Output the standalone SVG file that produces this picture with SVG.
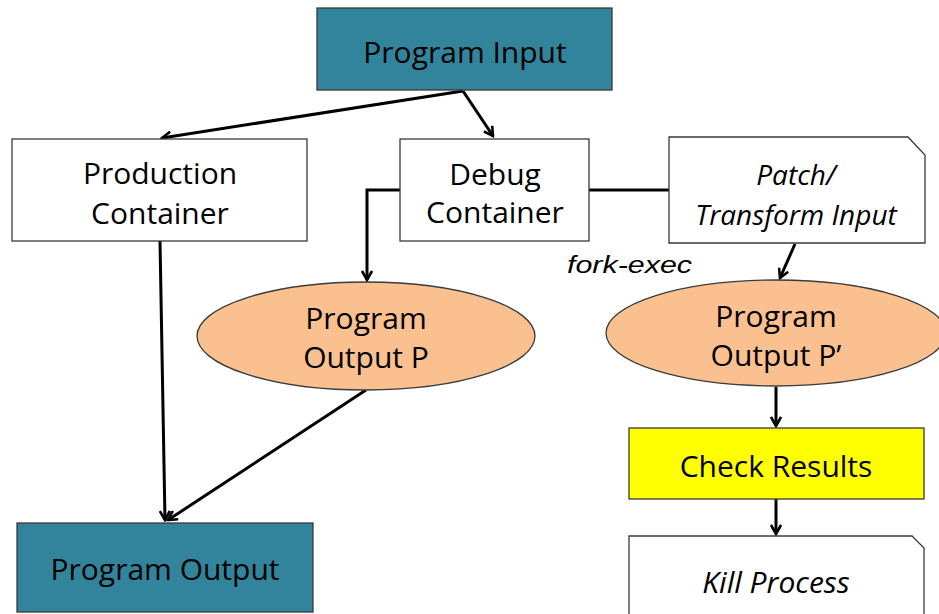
<svg xmlns="http://www.w3.org/2000/svg" width="939" height="614" viewBox="0 0 939 614">
<defs>
<marker id="arr" viewBox="0 0 12 12" refX="10" refY="6" markerWidth="12" markerHeight="12" markerUnits="userSpaceOnUse" orient="auto">
<path d="M1,1 L10,6 L1,11" fill="none" stroke="#000" stroke-width="2.6"/>
</marker>
</defs>
<style>
.box{stroke:#3a3a3a;stroke-width:1.3}
.t{font-family:"Open Sans",Lato,"Liberation Sans",sans-serif;font-size:30px;fill:#000;text-anchor:middle}
.i{font-style:italic}
.s{font-size:28px}
.c{fill:none;stroke:#000;stroke-width:3}
</style>
<rect width="939" height="614" fill="#fff"/>
<g id="connectors">
<line class="c" x1="463" y1="91" x2="162" y2="138" marker-end="url(#arr)"/>
<line class="c" x1="463" y1="91" x2="493" y2="136" marker-end="url(#arr)"/>
<polyline class="c" points="400,190 367,190 367,280" marker-end="url(#arr)"/>
<line class="c" x1="589" y1="190" x2="669" y2="190"/>
<line class="c" x1="795" y1="244" x2="780" y2="278" marker-end="url(#arr)"/>
<line class="c" x1="160" y1="241" x2="165" y2="520" marker-end="url(#arr)"/>
<line class="c" x1="366" y1="390" x2="168" y2="520" marker-end="url(#arr)"/>
<line class="c" x1="776" y1="387" x2="776" y2="426" marker-end="url(#arr)"/>
<line class="c" x1="776" y1="499" x2="776" y2="534" marker-end="url(#arr)"/>
</g>
<g id="program-input">
<rect class="box" x="317" y="8" width="295" height="82" fill="#31849b"/>
<text class="t" x="465" y="63">Program Input</text>
</g>
<g id="production-container">
<rect class="box" x="12" y="139" width="295" height="102" fill="#fff"/>
<text class="t" x="160" y="184">Production</text>
<text class="t" x="160" y="224">Container</text>
</g>
<g id="debug-container">
<rect class="box" x="400" y="139" width="189" height="102" fill="#fff"/>
<text class="t" x="495" y="185">Debug</text>
<text class="t" x="495" y="223">Container</text>
</g>
<g id="patch-transform">
<path class="box" d="M669,137 H908 L925,155 V243 H669 Z" fill="#fff"/>
<text class="t i s" x="796" y="185">Patch/</text>
<text class="t i s" x="796" y="225">Transform Input</text>
</g>
<text id="fork-exec" x="629.5" y="273" font-family="'Liberation Sans',Arial,sans-serif" font-style="italic" font-size="24" text-anchor="middle" textLength="125" lengthAdjust="spacingAndGlyphs">fork-exec</text>
<g id="program-output-p">
<ellipse class="box" cx="366" cy="336" rx="169" ry="54" fill="#fac090"/>
<text class="t" x="366" y="329">Program</text>
<text class="t" x="366" y="368">Output P</text>
</g>
<g id="program-output-p2">
<ellipse class="box" cx="776" cy="333" rx="170" ry="53" fill="#fac090"/>
<text class="t" x="776" y="327">Program</text>
<text class="t" x="776" y="366">Output P’</text>
</g>
<g id="check-results">
<rect class="box" x="629" y="428" width="295" height="71" fill="#ffff00"/>
<text class="t" x="776" y="477">Check Results</text>
</g>
<g id="kill-process">
<path class="box" d="M629,536 H912 L924,548 V620 H629 Z" fill="#fff"/>
<text class="t i" x="776" y="593">Kill Process</text>
</g>
<g id="program-output">
<rect class="box" x="17" y="523" width="296" height="89" fill="#31849b"/>
<text class="t" x="165" y="580">Program Output</text>
</g>
</svg>
